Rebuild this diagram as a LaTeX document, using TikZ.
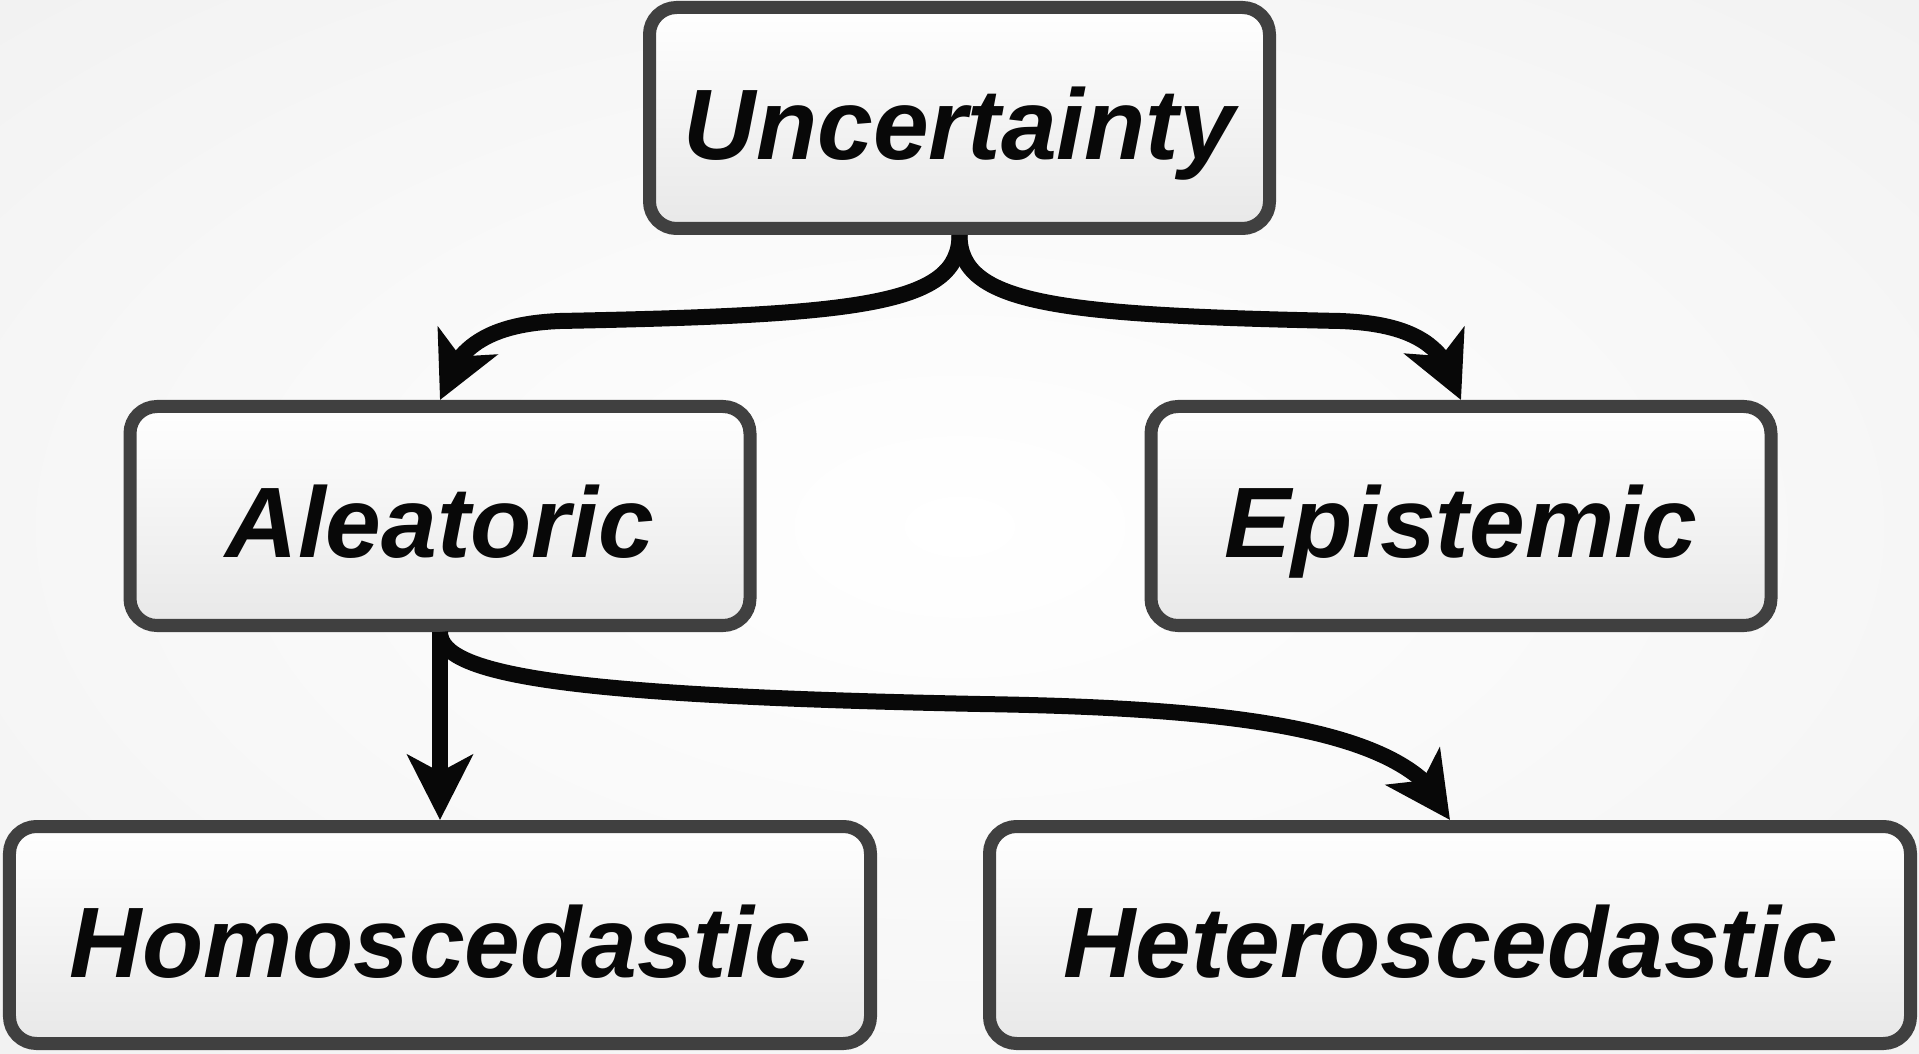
\documentclass[tikz,border=0pt]{standalone}
\usepackage{fontspec}
\setmainfont{Liberation Sans}
\usetikzlibrary{arrows.meta,bending,positioning}
\definecolor{edge}{RGB}{64,64,64}
\definecolor{ink}{RGB}{8,8,8}
\pgfdeclareradialshading{glow}{\pgfpoint{0bp}{0bp}}{color(0bp)=(white); color(22bp)=(white!97!black); color(72bp)=(black!11)}
\tikzset{
  kind/.style={draw=edge, line width=1.3mm, rounded corners=2.7mm, top color=white, bottom color=black!9,
              minimum width=6.2cm, minimum height=2.19cm, text height=8.4mm, text depth=0pt, inner sep=0pt,
              text=ink, font=\fontsize{28.5}{30}\selectfont\bfseries\itshape},
  link/.style={-{Stealth[length=6.5mm, width=6.5mm, inset=1.7mm]}, line width=1.6mm, draw=ink},
}

\begin{document}
\begin{tikzpicture}
    \useasboundingbox (0,0) rectangle (19.19,10.53);
    \shade[shading=glow] (0,0) rectangle (19.19,10.53);
    % boxes
    \node[kind, minimum height=2.21cm] (unc) at (9.595,9.35) {Uncertainty};
    \node[kind] (ale) at (4.40,5.37) {Aleatoric};
    \node[kind, right=3.88cm of ale] (epi) {Epistemic};
    \node[kind, minimum width=8.61cm, minimum height=2.17cm, below=1.88cm of ale] (homo) {Homoscedastic};
    \node[kind, minimum width=9.21cm, minimum height=2.17cm, right=1.06cm of homo] (het) {Heteroscedastic};
    % bends of the curved links
    \coordinate (ua) at (5.6,7.32);
    \coordinate (ub) at (13.4,7.32);
    \coordinate (hm) at (9.8,3.49);
    \draw[link] (unc.south) .. controls +(0,-0.7) and +(3.0,0.06) .. (ua)
                            .. controls +(-0.75,-0.03) and +(0.12,0.5) .. (ale.north);
    \draw[link] (unc.south) .. controls +(0,-0.7) and +(-2.8,0.06) .. (ub)
                            .. controls +(0.8,-0.03) and +(-0.12,0.5) .. (epi.north);
    \draw[link] (ale) -- (homo);
    \draw[link] (ale.south) .. controls +(0,-0.45) and +(-4.0,0.08) .. (hm)
                            .. controls +(2.6,-0.04) and +(-0.3,0.9) .. (het.north);
  \end{tikzpicture}
\end{document}
